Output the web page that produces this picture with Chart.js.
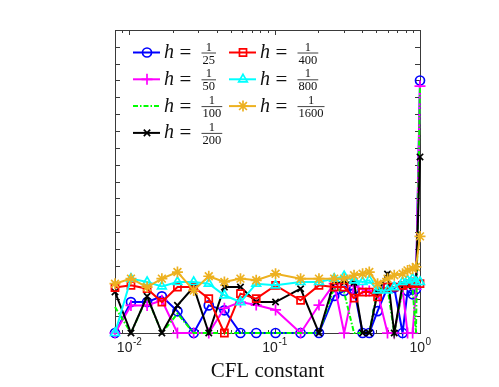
<!DOCTYPE html>
<html>
<head>
<meta charset="utf-8">
<script src="https://cdn.jsdelivr.net/npm/chart.js@4.4.0/dist/chart.umd.min.js"></script>
<style>
  html, body { margin: 0; padding: 0; background: #fff; }
</style>
</head>
<body>
<canvas id="cflChart" width="499" height="387"></canvas>
<script>
// CFL-Werte (x-Achse, logarithmisch)
const cflValues = [0.0080, 0.0103, 0.0133, 0.0168, 0.0215, 0.0278, 0.0353, 0.0452, 0.0583, 0.0748,
                   0.1016, 0.151, 0.202, 0.257, 0.301, 0.352, 0.403, 0.448, 0.511, 0.598,
                   0.665, 0.759, 0.821, 0.890, 0.938, 1.0];

// Werte je Gitterweite h
const h25   = [0, 1.84, 1.84, 2.18, 1.29, 0, 1.64, 1.35, 0, 0, 0, 0, 0, 2.2, 2.5, 2.6, 0, 0, 1.3, 2.7, 2.7, 0, 2.5, 2.3, 2.6, 15.0];
const h50   = [0, 1.64, 1.64, 1.94, 0, 0, 0, 1.47, 1.84, 1.66, 1.37, 0, 1.66, 2.93, 0, 2.8, 2.6, 2.5, 2.4, 0, 0, 2.6, 0, 0, 2.6, 14.67];
const h100  = [1.55, 0, 2.14, 0, 1.15, 0, 0, 0, 0, 0, 0, 0, 0, 2.7, 2.4, 0, 0, 0, 2.6, 2.7, 0, 2.6, 2.7, 2.6, 0, 14.6];
const h200  = [2.44, 0, 2.18, 0, 1.64, 2.73, 0, 2.73, 2.73, 1.84, 1.84, 2.63, 0, 3.03, 3.0, 3.0, 0, 0, 2.4, 3.5, 0, 2.9, 2.8, 2.9, 3.0, 10.46];
const h400  = [2.7, 2.83, 2.63, 1.84, 2.73, 2.73, 2.04, 0, 2.34, 2.04, 2.83, 1.94, 2.83, 2.73, 2.73, 2.07, 2.43, 2.43, 2.14, 2.73, 2.73, 2.83, 2.93, 3.03, 2.93, 2.93];
const h800  = [0, 3.23, 3.03, 2.77, 3.03, 3.03, 2.93, 2.24, 1.84, 2.93, 2.83, 3.03, 3.03, 3.23, 3.37, 3.13, 3.03, 3.13, 2.53, 2.53, 2.73, 3.03, 3.13, 3.23, 3.03, 3.03];
const h1600 = [2.93, 3.23, 2.73, 3.23, 3.62, 2.53, 3.37, 3.03, 3.23, 3.13, 3.52, 3.23, 3.23, 3.23, 3.23, 3.43, 3.52, 3.62, 2.93, 3.23, 3.43, 3.52, 3.72, 3.82, 3.92, 5.74];

const hDenominators = ['25', '50', '100', '200', '400', '800', '1600'];
const seriesValues = [h25, h50, h100, h200, h400, h800, h1600];
const seriesColors = ['#0000FF', '#FF00FF', '#00FF00', '#000000', '#FF0000', '#00FFFF', '#EDB120'];
const seriesMarkers = ['circle', 'cross', false, 'crossRot', 'rect', 'triangle', 'star'];
const markerSizes = [4.5, 5.5, 0, 4.5, 5, 5, 5.5];

const xDecades = [0.01, 0.1, 1];
const yMax = 18;

// Datensätze aufbauen
const datasets = seriesValues.map((vals, i) => ({
    label: 'h = 1/' + hDenominators[i],
    data: cflValues.map((x, k) => ({ x: x, y: vals[k] })),
    borderColor: seriesColors[i],
    backgroundColor: 'rgba(0,0,0,0)',
    borderWidth: 2,
    borderDash: i === 2 ? [5, 2, 1.5, 2] : [],
    pointStyle: seriesMarkers[i],
    pointRadius: markerSizes[i],
    pointBorderWidth: 1.7,
    pointBackgroundColor: 'rgba(0,0,0,0)',
    pointBorderColor: seriesColors[i],
    tension: 0,
    clip: false,
    order: 6 - i
}));

// Achsenrahmen mit Ticks nach innen (MATLAB-Stil)
const boxPlugin = {
    id: 'boxAxes',
    beforeDatasetsDraw(chart) {
        const ctx = chart.ctx;
        const a = chart.chartArea;
        const xs = chart.scales.x;
        const ys = chart.scales.y;
        ctx.save();
        ctx.strokeStyle = '#3a3a3a';
        ctx.lineWidth = 1;
        ctx.strokeRect(a.left + 0.5, a.top + 0.5, a.right - a.left, a.bottom - a.top);
        ctx.beginPath();
        for (let v = 1; v < yMax; v++) {
            const py = Math.round(ys.getPixelForValue(v)) + 0.5;
            ctx.moveTo(a.left, py); ctx.lineTo(a.left + 5, py);
            ctx.moveTo(a.right, py); ctx.lineTo(a.right - 5, py);
        }
        [0.001, 0.01, 0.1].forEach(d => {
            for (let m = 1; m <= 9; m++) {
                const v = d * m;
                if (v < xs.min || v > xs.max) continue;
                const px = Math.round(xs.getPixelForValue(v)) + 0.5;
                const len = m === 1 ? 5 : 3;
                ctx.moveTo(px, a.bottom); ctx.lineTo(px, a.bottom - len);
                ctx.moveTo(px, a.top); ctx.lineTo(px, a.top + len);
            }
        });
        ctx.stroke();
        ctx.restore();
    },
    afterDraw(chart) {
        const ctx = chart.ctx;
        const a = chart.chartArea;
        const xs = chart.scales.x;
        ctx.save();
        ctx.fillStyle = '#222';
        // Tick-Beschriftung 10^n
        xDecades.forEach(v => {
            const expo = String(Math.round(Math.log10(v)));
            ctx.font = '14px "Liberation Sans", Arial, sans-serif';
            const wBase = ctx.measureText('10').width;
            ctx.font = '10px "Liberation Sans", Arial, sans-serif';
            const wExp = ctx.measureText(expo).width;
            const px = xs.getPixelForValue(v);
            const x0 = px - (wBase + wExp) / 2;
            ctx.textBaseline = 'alphabetic';
            ctx.textAlign = 'left';
            ctx.font = '14px "Liberation Sans", Arial, sans-serif';
            ctx.fillText('10', x0, a.bottom + 19);
            ctx.font = '10px "Liberation Sans", Arial, sans-serif';
            ctx.fillText(expo, x0 + wBase + 0.5, a.bottom + 12);
        });
        // x-Achsentitel
        ctx.fillStyle = '#111';
        ctx.font = '21px "Liberation Serif", "DejaVu Serif", serif';
        ctx.textAlign = 'center';
        ctx.fillText('CFL constant', (a.left + a.right) / 2, a.bottom + 44);
        ctx.restore();
    }
};

// Legende mit Brüchen h = 1/N
const legendPlugin = {
    id: 'fracLegend',
    afterDatasetsDraw(chart) {
        const ctx = chart.ctx;
        chart.data.datasets.forEach((ds, i) => {
            const col = i < 4 ? 0 : 1;
            const row = i < 4 ? i : i - 4;
            const y = 52.5 + row * 26.8;
            const x0 = col === 0 ? 133 : 229;
            ctx.save();
            ctx.strokeStyle = ds.borderColor;
            ctx.lineWidth = ds.borderWidth;
            ctx.setLineDash(ds.borderDash);
            ctx.beginPath();
            ctx.moveTo(x0, y); ctx.lineTo(x0 + 27, y);
            ctx.stroke();
            ctx.setLineDash([]);
            if (ds.pointStyle) {
                ctx.lineWidth = ds.pointBorderWidth;
                ctx.fillStyle = 'rgba(0,0,0,0)';
                Chart.helpers.drawPoint(ctx, { pointStyle: ds.pointStyle, radius: ds.pointRadius, borderWidth: ds.pointBorderWidth, rotation: 0 }, x0 + 14, y);
            }
            ctx.fillStyle = '#111';
            ctx.textAlign = 'left';
            ctx.textBaseline = 'alphabetic';
            const hX = x0 + 31;
            ctx.font = 'italic 20px "Liberation Serif", "DejaVu Serif", serif';
            ctx.fillText('h', hX, y + 5.5);
            ctx.font = '21px "Liberation Serif", "DejaVu Serif", serif';
            ctx.fillText('=', hX + 15.5, y + 6.5);
            ctx.font = '12.5px "Liberation Serif", "DejaVu Serif", serif';
            const den = hDenominators[i];
            const w = ctx.measureText(den).width + 2;
            const fx = hX + 37.5;
            ctx.textAlign = 'center';
            ctx.fillText('1', fx + w / 2, y - 2);
            ctx.fillText(den, fx + w / 2, y + 11);
            ctx.lineWidth = 0.8;
            ctx.strokeStyle = '#111';
            ctx.beginPath();
            ctx.moveTo(fx, y + 0.5); ctx.lineTo(fx + w, y + 0.5);
            ctx.stroke();
            ctx.restore();
        });
    }
};

new Chart(document.getElementById('cflChart').getContext('2d'), {
    type: 'line',
    data: { datasets: datasets },
    options: {
        responsive: false,
        animation: false,
        devicePixelRatio: 1,
        layout: { padding: { left: 115, top: 30, right: 79, bottom: 54 } },
        scales: {
            x: { type: 'logarithmic', min: 0.008, max: 1.0, display: false },
            y: { type: 'linear', min: 0, max: yMax, display: false }
        },
        plugins: {
            legend: { display: false },
            tooltip: { enabled: false }
        }
    },
    plugins: [boxPlugin, legendPlugin]
});
</script>
</body>
</html>
